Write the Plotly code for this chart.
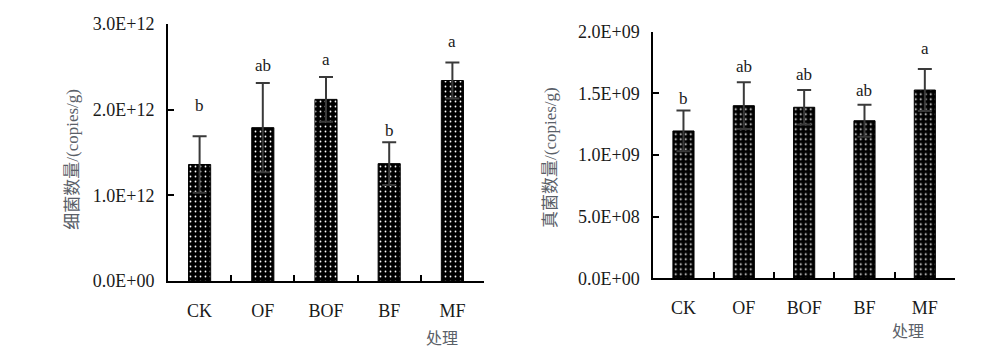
import plotly.graph_objects as go

categories = ["CK", "OF", "BOF", "BF", "MF"]

bacteria_values = [1.36e12, 1.79e12, 2.12e12, 1.37e12, 2.34e12]
bacteria_errors = [0.33e12, 0.52e12, 0.26e12, 0.25e12, 0.21e12]
bacteria_letters = ["b", "ab", "a", "b", "a"]
bacteria_letter_y = [2.05e12, 2.52e12, 2.58e12, 1.76e12, 2.80e12]
bacteria_tickvals = [0, 1e12, 2e12, 3e12]
bacteria_ticktext = ["0.0E+00", "1.0E+12", "2.0E+12", "3.0E+12"]

fungi_values = [1.195e9, 1.40e9, 1.387e9, 1.278e9, 1.527e9]
fungi_errors = [0.165e9, 0.19e9, 0.14e9, 0.13e9, 0.17e9]
fungi_letters = ["b", "ab", "ab", "ab", "a"]
fungi_letter_y = [1.46e9, 1.72e9, 1.65e9, 1.527e9, 1.865e9]
fungi_tickvals = [0, 0.5e9, 1.0e9, 1.5e9, 2.0e9]
fungi_ticktext = ["0.0E+00", "5.0E+08", "1.0E+09", "1.5E+09", "2.0E+09"]

FONT = "Liberation Serif"
CJK_FONT = "Liberation Serif, Noto Sans CJK SC"
TXT = "#1a1a1a"
TITLE_COL = "#5a6068"

fig = go.Figure()

def add_bars(vals, errs, xa, ya):
    fig.add_trace(go.Bar(
        x=categories, y=vals, xaxis=xa, yaxis=ya, width=0.35,
        marker=dict(color="black", line=dict(color="black", width=1),
                    pattern=dict(shape=".", fgcolor="white", bgcolor="black",
                                 size=5, solidity=0.1, fillmode="replace")),
        error_y=dict(type="data", array=errs, visible=True, color="#3a3a3a",
                     thickness=2, width=7),
        showlegend=False,
    ))

add_bars(bacteria_values, bacteria_errors, "x", "y")
add_bars(fungi_values, fungi_errors, "x2", "y2")

ax_common = dict(
    showline=True, linecolor="black", linewidth=2, showgrid=False, zeroline=False,
    ticks="inside", ticklen=6, tickwidth=2, tickcolor="black", automargin=False,
)
ytick_font = dict(family=FONT, size=18, color=TXT)
xtick_font = dict(family=FONT, size=18, color=TXT)

fig.update_layout(
    width=1000, height=353, margin=dict(l=0, r=0, t=0, b=0),
    paper_bgcolor="white", plot_bgcolor="white", bargap=0.65,
    xaxis=dict(domain=[0.168, 0.484], anchor="y", type="category",
               tickson="boundaries", ticklabelstandoff=12, tickfont=xtick_font,
               **ax_common),
    yaxis=dict(domain=[1 - 281 / 353, 1 - 24 / 353], anchor="x", range=[0, 3e12],
               tickmode="array", tickvals=bacteria_tickvals, ticktext=bacteria_ticktext,
               ticklabelstandoff=8, tickfont=ytick_font, **ax_common),
    xaxis2=dict(domain=[0.6533, 0.955], anchor="y2", type="category",
                tickson="boundaries", ticklabelstandoff=12, tickfont=xtick_font,
                **ax_common),
    yaxis2=dict(domain=[1 - 278.3 / 353, 1 - 31.7 / 353], anchor="x2", range=[0, 2e9],
                tickmode="array", tickvals=fungi_tickvals, ticktext=fungi_ticktext,
                ticklabelstandoff=8, tickfont=ytick_font, **ax_common),
)

annotations = []
for c, t, y in zip(categories, bacteria_letters, bacteria_letter_y):
    annotations.append(dict(x=c, y=y, xref="x", yref="y", text=t, showarrow=False,
                            font=dict(family=FONT, size=17, color=TXT), yanchor="middle"))
for c, t, y in zip(categories, fungi_letters, fungi_letter_y):
    annotations.append(dict(x=c, y=y, xref="x2", yref="y2", text=t, showarrow=False,
                            font=dict(family=FONT, size=17, color=TXT), yanchor="middle"))

annotations += [
    dict(x=441.7 / 1000, y=1 - 338 / 353, xref="paper", yref="paper", text="处理",
         showarrow=False, font=dict(family=CJK_FONT, size=16, color=TITLE_COL),
         xanchor="center", yanchor="middle"),
    dict(x=908 / 1000, y=1 - 331.7 / 353, xref="paper", yref="paper", text="处理",
         showarrow=False, font=dict(family=CJK_FONT, size=16, color=TITLE_COL),
         xanchor="center", yanchor="middle"),
    dict(x=71.7 / 1000, y=1 - 159 / 353, xref="paper", yref="paper",
         text="细菌数量/(copies/g)", textangle=-90, showarrow=False,
         font=dict(family=CJK_FONT, size=17, color=TITLE_COL),
         xanchor="center", yanchor="middle"),
    dict(x=550 / 1000, y=1 - 158 / 353, xref="paper", yref="paper",
         text="真菌数量/(copies/g)", textangle=-90, showarrow=False,
         font=dict(family=CJK_FONT, size=17, color=TITLE_COL),
         xanchor="center", yanchor="middle"),
]
fig.update_layout(annotations=annotations)

fig.write_html("out.html")
